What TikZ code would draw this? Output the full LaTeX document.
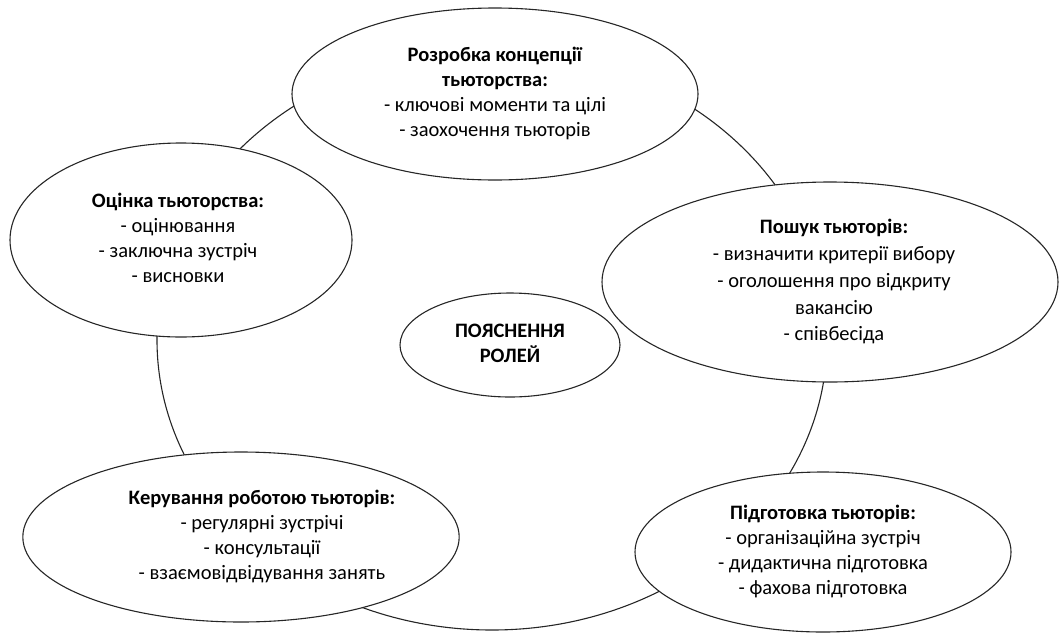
\documentclass[tikz,border=0pt]{standalone}
\usepackage{fontspec}
\setmainfont{Carlito}
\usetikzlibrary{shapes.geometric}
\tikzset{
  oval/.style={draw=black!85, line width=1.1pt, fill=white, ellipse, inner sep=0pt},
  ring/.style={draw=black!85, line width=1.1pt},
}
\newcommand{\txt}[3][25]{\raisebox{#2}{\fontsize{20.5}{#1}\selectfont\begin{tabular}{@{}c@{}}#3\end{tabular}}}
\begin{document}
\begin{tikzpicture}[x=1pt,y=-1pt]
\useasboundingbox (0,0) rectangle (1059,632);
\draw[ring] (492,340) ellipse [x radius=335pt, y radius=290pt];
\node[oval, minimum width=406pt, minimum height=172pt] (concept) at (495,94)
  {\txt{0pt}{\textbf{Розробка концепції}\\ \textbf{тьюторства:}\\ - ключові моменти та цілі\\ - заохочення тьюторів}};
\node[oval, minimum width=342pt, minimum height=194pt] (eval) at (181,240)
  {\txt{8pt}{\textbf{Оцінка тьюторства:}\\ - оцінювання\\ - заключна зустріч\\ - висновки}\hspace*{6pt}};
\node[oval, minimum width=456pt, minimum height=200pt] (search) at (830,282)
  {\hspace*{8pt}\txt[26.7]{10pt}{\textbf{Пошук тьюторів:}\\ - визначити критерії вибору\\ - оголошення про відкриту\\ вакансію\\ - співбесіда}};
\node[oval, minimum width=436pt, minimum height=170pt] (manage) at (241,537)
  {\hspace*{42pt}\txt{-3pt}{\textbf{Керування роботою тьюторів:}\\ - регулярні зустрічі\\ - консультації\\ - взаємовідвідування занять}};
\node[oval, minimum width=376pt, minimum height=160pt] (prep) at (823,552)
  {\txt{-5pt}{\textbf{Підготовка тьюторів:}\\ - організаційна зустріч\\ - дидактична підготовка\\ - фахова підготовка}};
\node[oval, minimum width=220pt, minimum height=104pt] (roles) at (510,345)
  {\txt{0pt}{\textbf{ПОЯСНЕННЯ}\\ \textbf{РОЛЕЙ}}};
\end{tikzpicture}
\end{document}
